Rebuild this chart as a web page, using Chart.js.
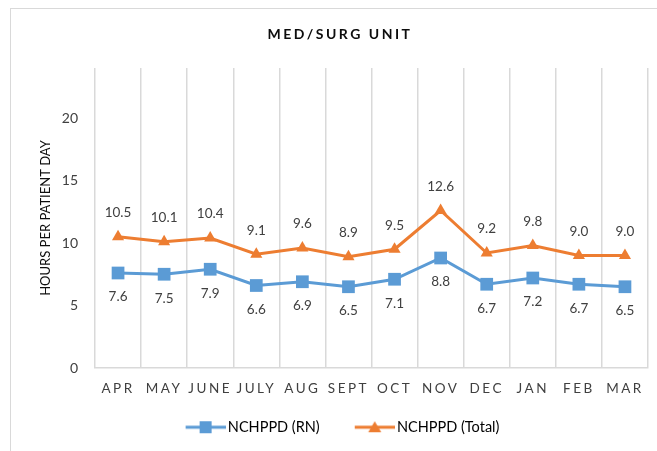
<!DOCTYPE html>
<html>
<head>
<meta charset="utf-8">
<script src="https://cdn.jsdelivr.net/npm/chart.js@4/dist/chart.umd.min.js"></script>
<style>
  html, body { margin: 0; padding: 0; background: #ffffff; }
  #wrap { position: relative; width: 657px; height: 451px; }
</style>
</head>
<body>
<div id="wrap"><canvas id="c" width="657" height="451"></canvas></div>
<script>
// ---- data ----
const chartTitle = 'MED/SURG UNIT';
const yAxisTitle = 'HOURS PER PATIENT DAY';
const months = ['APR', 'MAY', 'JUNE', 'JULY', 'AUG', 'SEPT', 'OCT', 'NOV', 'DEC', 'JAN', 'FEB', 'MAR'];
const rnValues = [7.6, 7.5, 7.9, 6.6, 6.9, 6.5, 7.1, 8.8, 6.7, 7.2, 6.7, 6.5];
const totalValues = [10.5, 10.1, 10.4, 9.1, 9.6, 8.9, 9.5, 12.6, 9.2, 9.8, 9.0, 9.0];
const yTicks = [0, 5, 10, 15, 20];
const seriesNames = ['NCHPPD (RN)', 'NCHPPD (Total)'];

const BLUE = '#5B9BD5';
const ORANGE = '#ED7D31';
const FONT = 'Lato, "Open Sans", sans-serif';

class SpacedCategory extends Chart.CategoryScale {
  drawLabels(chartArea) {
    const ctx = this.ctx;
    ctx.save();
    ctx.letterSpacing = '2.5px';
    super.drawLabels(chartArea);
    ctx.restore();
  }
}
SpacedCategory.id = 'spacedCategory';
SpacedCategory.defaults = Chart.CategoryScale.defaults;
Chart.register(SpacedCategory);

// legend icon: transparent lead-in (item spacing) then line + marker
function legendIcon(color, style) {
  const cv = document.createElement('canvas');
  cv.width = 60; cv.height = 16;
  const g = cv.getContext('2d');
  g.strokeStyle = color; g.lineWidth = 3;
  g.beginPath(); g.moveTo(20, 8); g.lineTo(60, 8); g.stroke();
  g.fillStyle = color;
  if (style === 'rect') {
    g.fillRect(34, 2, 12, 12);
  } else {
    g.beginPath(); g.moveTo(40, 2); g.lineTo(46.5, 13); g.lineTo(33.5, 13); g.closePath(); g.fill();
  }
  return cv;
}

const decorPlugin = {
  id: 'decor',
  afterLayout(chart) {
    if (chart.legend) { chart.legend.left += 6; chart.legend.right += 6; }
  },
  beforeDraw(chart) {
    const ctx = chart.ctx;
    ctx.save();
    ctx.strokeStyle = '#d9d9d9';
    ctx.lineWidth = 1;
    ctx.strokeRect(10.5, 8.5, 700, 500);
    ctx.fillStyle = '#0d0d0d';
    ctx.font = 'bold 14px ' + FONT;
    ctx.letterSpacing = '2.5px';
    ctx.textAlign = 'center';
    ctx.textBaseline = 'middle';
    ctx.fillText(chartTitle, 340, 34);
    ctx.restore();
  },
  afterDatasetsDraw(chart) {
    const ctx = chart.ctx;
    ctx.save();
    ctx.font = '13.5px ' + FONT;
    ctx.fillStyle = '#404040';
    ctx.textAlign = 'center';
    ctx.textBaseline = 'middle';
    chart.data.datasets.forEach((ds, di) => {
      const meta = chart.getDatasetMeta(di);
      const dy = di === 0 ? 24 : -24;
      meta.data.forEach((el, i) => {
        ctx.fillText(Number(ds.data[i]).toFixed(1), el.x, el.y + dy);
      });
    });
    ctx.restore();
  }
};

new Chart(document.getElementById('c'), {
  type: 'line',
  data: {
    labels: months,
    datasets: [
      {
        label: seriesNames[0], data: rnValues,
        borderColor: BLUE, backgroundColor: BLUE, borderWidth: 3,
        pointStyle: 'rect', pointRadius: 9, pointHoverRadius: 9,
        pointBackgroundColor: BLUE, pointBorderColor: BLUE, pointBorderWidth: 0,
        tension: 0
      },
      {
        label: seriesNames[1], data: totalValues,
        borderColor: ORANGE, backgroundColor: ORANGE, borderWidth: 3,
        pointStyle: 'triangle', pointRadius: 7, pointHoverRadius: 7,
        pointBackgroundColor: ORANGE, pointBorderColor: ORANGE, pointBorderWidth: 0,
        tension: 0
      }
    ]
  },
  options: {
    responsive: false,
    animation: false,
    devicePixelRatio: 1,
    layout: { padding: { left: 10, right: 9, top: 68, bottom: 6.5 } },
    plugins: {
      title: { display: false },
      tooltip: { enabled: false },
      legend: {
        position: 'bottom',
        labels: {
          usePointStyle: true,
          pointStyleWidth: 50,
          boxHeight: 14,
          padding: 20,
          color: '#404040',
          font: { family: FONT, size: 14.5 },
          generateLabels(chart) {
            return chart.data.datasets.map((ds, i) => ({
              text: ds.label,
              fillStyle: ds.borderColor,
              strokeStyle: ds.borderColor,
              lineWidth: 0,
              pointStyle: legendIcon(ds.borderColor, i === 0 ? 'rect' : 'triangle'),
              hidden: false,
              datasetIndex: i
            }));
          }
        }
      }
    },
    scales: {
      x: {
        type: 'spacedCategory',
        offset: true,
        afterFit(scale) { scale.height = 32; },
        grid: { display: true, offset: true, color: '#d9d9d9', lineWidth: 1.5, drawTicks: false },
        border: { display: true, color: '#d9d9d9', width: 1.5 },
        ticks: { color: '#404040', padding: 13, font: { family: FONT, size: 13.5 }, maxRotation: 0, autoSkip: false }
      },
      y: {
        min: 0, max: 24,
        afterFit(scale) { scale.width = 85; },
        afterBuildTicks(scale) { scale.ticks = yTicks.map(v => ({ value: v })); },
        grid: { display: false, drawTicks: false },
        border: { display: false },
        ticks: { color: '#404040', padding: 17, font: { family: FONT, size: 14 } },
        title: {
          display: true, text: yAxisTitle, color: '#0d0d0d',
          font: { family: FONT, size: 13 }, padding: { top: 28, bottom: 0 }
        }
      }
    }
  },
  plugins: [decorPlugin]
});
</script>
</body>
</html>
